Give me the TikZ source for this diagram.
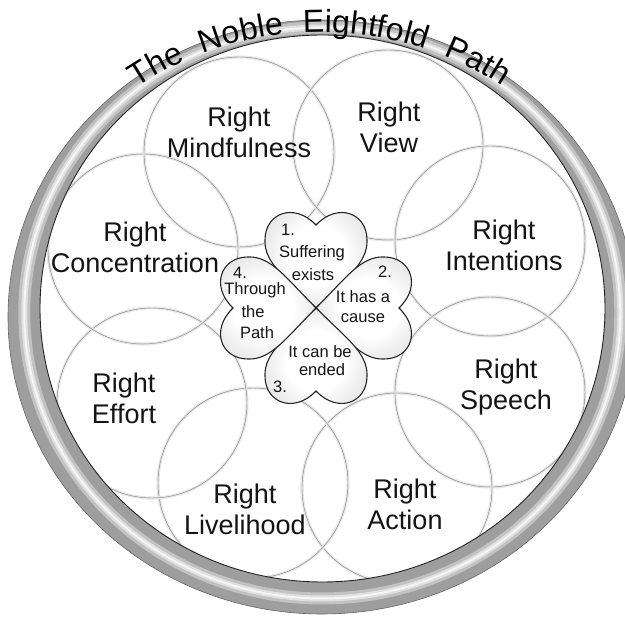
\documentclass[tikz,border=0pt]{standalone}
\usepackage{fontspec}
\setmainfont{Liberation Sans}
\newfontfamily\ttlfam{Liberation Sans}
\usetikzlibrary{decorations.text}
\pgfdeclareradialshading{heartshade}{\pgfpoint{0bp}{0bp}}{color(0bp)=(white); color(14bp)=(white); color(30bp)=(black!12); color(44bp)=(black!30); color(50bp)=(black!50)}
\newcommand\ttlfont{\ttlfam\fontsize{32}{33}\selectfont}
\tikzset{
  petal/.style={circle, minimum size=190pt, inner sep=0pt, draw=black!45, line width=0.45pt,
    preaction={draw=black!10, line width=3pt}},
  biglabel/.style={align=center, font=\fontsize{27}{31}\selectfont, text=black!92, inner sep=0pt},
  smalllabel/.style={font=\fontsize{16.5}{18}\selectfont, inner sep=0pt, text=black!92},
  heartline/.style={draw=black!85, line width=1.1pt, shade, shading=heartshade},
  heartshape/.pic={
    \path[heartline] (0,0) .. controls (-30,30) and (-52,45) .. (-51,68)
      .. controls (-51,95) and (-22,106) .. (0,83)
      .. controls (22,106) and (51,95) .. (51,68)
      .. controls (52,45) and (30,30) .. (0,0) -- cycle;
  }
}
\begin{document}
\begin{tikzpicture}[x=1pt,y=1pt]
\useasboundingbox (0,0) rectangle (625,621);
\clip (0,0) rectangle (625,621);
\fill[white] (0,0) rectangle (625,621);

% eight circles
\node[petal] (cmind) at (239,469) {};
\node[petal] (cview) at (388,476) {};
\node[petal] (cint)  at (490,380) {};
\node[petal] (cspe)  at (490,229) {};
\node[petal] (cact)  at (397,133) {};
\node[petal] (cliv)  at (253,138) {};
\node[petal] (ceff)  at (152,218) {};
\node[petal] (ccon)  at (143,372) {};

% ring
\fill[black!38, even odd rule] (322,304) ellipse [x radius=314, y radius=297]
  (322.5,312.5) ellipse [x radius=282.5, y radius=273.5];
\draw[black!24, line width=12pt] (322.3,308) ellipse [x radius=298, y radius=285.5];
\draw[black!12, line width=6pt] (322.3,308) ellipse [x radius=298, y radius=285.5];
\draw[black!4, line width=2pt] (322.3,308) ellipse [x radius=298, y radius=285.5];
\draw[black!60, line width=0.6pt] (322,304) ellipse [x radius=314, y radius=297];
\draw[black!85, line width=0.9pt] (322.5,312.5) ellipse [x radius=282.5, y radius=273.5];

% title
\path[decorate, decoration={text along path, text={|\ttlfont|The Noble Eightfold Path},
  text align={fit to path stretching spaces}}]
  (320.5,257.4) ++(123.6:331.6) arc[start angle=123.6, end angle=56.8, radius=331.6];

% labels
\node[biglabel] (lmind) at (239,489) {Right\\Mindfulness};
\node[biglabel] (lview) at (389,494) {Right\\View};
\node[biglabel] (lcon)  at (135,374) {Right\\Concentration};
\node[biglabel] (lint)  at (504,376) {Right\\Intentions};
\node[biglabel] (leff)  at (124,223) {Right\\Effort};
\node[biglabel] (lspe)  at (506,234) {Right\\Speech};
\node[biglabel] (lliv)  at (245,112) {Right\\Livelihood};
\node[biglabel] (lact)  at (405,117) {Right\\Action};

% clover of hearts
\coordinate (clover) at (316,313);
\pic[rotate=0]   at (clover) {heartshape};
\pic[rotate=-90] at (clover) {heartshape};
\pic[rotate=180] at (clover) {heartshape};
\pic[rotate=90]  at (clover) {heartshape};

\node[smalllabel] (h1a) at (288,391) {1.};
\node[smalllabel] (h1b) at (312,368) {Suffering};
\node[smalllabel] (h1c) at (313,346) {exists};
\node[smalllabel] (h2a) at (385,349) {2.};
\node[smalllabel] (h2b) at (363,324) {It has a};
\node[smalllabel] (h2c) at (363,303) {cause};
\node[smalllabel] (h3a) at (320,269) {It can be};
\node[smalllabel] (h3b) at (322,251) {ended};
\node[smalllabel] (h3c) at (280,234) {3.};
\node[smalllabel] (h4a) at (240,348) {4.};
\node[smalllabel] (h4b) at (255,331) {Through};
\node[smalllabel] (h4c) at (253,309) {the};
\node[smalllabel] (h4d) at (257,288) {Path};
\end{tikzpicture}
\end{document}
